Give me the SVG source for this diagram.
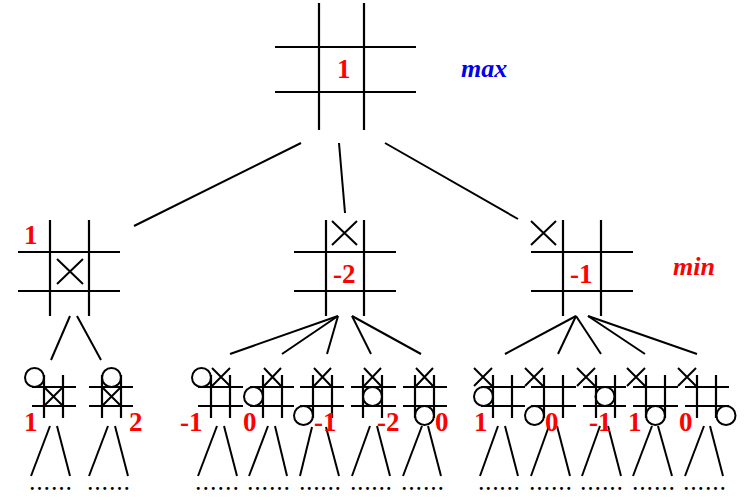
<svg xmlns="http://www.w3.org/2000/svg" width="749" height="501" viewBox="0 0 749 501">
<style>
.g{stroke:#000;stroke-width:2.2;fill:none;stroke-linecap:butt}
.m{stroke:#000;stroke-width:2;fill:none}
.c{stroke:#000;stroke-width:2;fill:none}
.v{font-family:"Liberation Serif","Times New Roman",serif;font-weight:bold;font-size:27px;fill:#ff0000}
.s{font-family:"Liberation Serif","Times New Roman",serif;font-weight:bold;font-style:italic;font-size:26px}
.d{font-family:"Liberation Serif","Times New Roman",serif;font-weight:bold;font-size:18px;fill:#000}
</style>
<rect width="749" height="501" fill="#fff"/>

<g id="connectors" class="c">
<line x1="301" y1="143" x2="134" y2="226"/>
<line x1="339" y1="143" x2="345" y2="213"/>
<line x1="385" y1="143" x2="518" y2="219"/>
<line x1="70" y1="316" x2="51" y2="360"/>
<line x1="77" y1="316" x2="101" y2="360"/>
<line x1="338" y1="316" x2="230" y2="354"/>
<line x1="338" y1="316" x2="282" y2="354"/>
<line x1="338" y1="316" x2="327" y2="354"/>
<line x1="352" y1="316" x2="371" y2="354"/>
<line x1="352" y1="316" x2="421" y2="354"/>
<line x1="576" y1="316" x2="505" y2="354"/>
<line x1="576" y1="316" x2="558" y2="354"/>
<line x1="576" y1="316" x2="601" y2="354"/>
<line x1="588" y1="316" x2="645" y2="354"/>
<line x1="588" y1="316" x2="697" y2="354"/>
<line x1="50" y1="426" x2="31" y2="476"/><line x1="57" y1="426" x2="70" y2="476"/>
<line x1="108" y1="426" x2="89" y2="476"/><line x1="115" y1="426" x2="128" y2="476"/>
<line x1="217" y1="426" x2="198" y2="476"/><line x1="224" y1="426" x2="237" y2="476"/>
<line x1="268" y1="426" x2="249" y2="476"/><line x1="275" y1="426" x2="287" y2="476"/>
<line x1="312" y1="427" x2="300" y2="476"/><line x1="326" y1="427" x2="339" y2="476"/>
<line x1="370" y1="426" x2="352" y2="476"/><line x1="377" y1="426" x2="390" y2="476"/>
<line x1="422" y1="426" x2="403" y2="476"/><line x1="428" y1="426" x2="441" y2="476"/>
<line x1="498" y1="426" x2="480" y2="476"/><line x1="505" y1="426" x2="518" y2="476"/>
<line x1="549" y1="426" x2="531" y2="476"/><line x1="557" y1="426" x2="570" y2="476"/>
<line x1="600" y1="426" x2="582" y2="476"/><line x1="608" y1="426" x2="621" y2="476"/>
<line x1="652" y1="426" x2="633" y2="476"/><line x1="658" y1="426" x2="672" y2="476"/>
<line x1="704" y1="426" x2="685" y2="476"/><line x1="710" y1="426" x2="723" y2="476"/>
</g>

<g id="dots">
<text class="d" x="30" y="490" textLength="41" lengthAdjust="spacing">......</text>
<text class="d" x="88" y="490" textLength="41" lengthAdjust="spacing">......</text>
<text class="d" x="196" y="490" textLength="42" lengthAdjust="spacing">......</text>
<text class="d" x="248" y="490" textLength="41" lengthAdjust="spacing">......</text>
<text class="d" x="300" y="490" textLength="40" lengthAdjust="spacing">......</text>
<text class="d" x="351" y="490" textLength="40" lengthAdjust="spacing">......</text>
<text class="d" x="402" y="490" textLength="41" lengthAdjust="spacing">......</text>
<text class="d" x="479" y="490" textLength="40" lengthAdjust="spacing">......</text>
<text class="d" x="530" y="490" textLength="41" lengthAdjust="spacing">......</text>
<text class="d" x="581" y="490" textLength="41" lengthAdjust="spacing">......</text>
<text class="d" x="633" y="490" textLength="41" lengthAdjust="spacing">......</text>
<text class="d" x="684" y="490" textLength="41" lengthAdjust="spacing">......</text>
</g>

<g id="root">
<path class="g" d="M319 3V130M364 3V130M275 47H416M275 92H416"/>
<text class="v" x="337" y="78">1</text>
</g>
<text id="label-max" class="s" x="461" y="77" fill="#0000ee">max</text>
<text id="label-min" class="s" x="673" y="275" fill="#ff0000">min</text>

<g id="n1">
<path class="g" d="M50 220V316M89 220V316M18 252H120M18 291H120"/>
<path class="m" d="M57 259L83 284M83 259L57 284"/>
<text class="v" x="24" y="244">1</text>
</g>
<g id="n2">
<path class="g" d="M326 220V316M364 220V316M294 252H396M294 291H396"/>
<path class="m" d="M332 221L357 245M357 221L332 245"/>
<text class="v" x="333" y="283">-2</text>
</g>
<g id="n3">
<path class="g" d="M563 220V316M601 220V316M531 252H633M531 291H633"/>
<path class="m" d="M531 221L556 245M556 221L531 245"/>
<text class="v" x="570" y="283">-1</text>
</g>

<g id="n1a">
<path class="g" d="M44 375V418M63 375V418M32 387H76M32 406H76"/>
<circle class="m" cx="34.5" cy="377.5" r="9.5"/>
<path class="m" d="M45 388L62 405M62 388L45 405"/>
<text class="v" x="24" y="431">1</text>
</g>
<g id="n1b">
<path class="g" d="M102 375V418M121 375V418M89 387H133M89 406H133"/>
<circle class="m" cx="111.5" cy="377.5" r="9.5"/>
<path class="m" d="M103 388L120 405M120 388L103 405"/>
<text class="v" x="129" y="431">2</text>
</g>

<g id="n2a">
<path class="g" d="M211 375V418M230 375V418M198 387H243M198 406H243"/>
<circle class="m" cx="201.5" cy="377.5" r="9.5"/>
<path class="m" d="M212 368L230 386M230 368L212 386"/>
<text class="v" x="180" y="431">-1</text>
</g>
<g id="n2b">
<path class="g" d="M263 375V418M282 375V418M250 387H294M250 406H294"/>
<circle class="m" cx="253.5" cy="396.5" r="9.5"/>
<path class="m" d="M264 368L281 386M281 368L264 386"/>
<text class="v" x="243" y="431">0</text>
</g>
<g id="n2c">
<path class="g" d="M313 375V418M332 375V418M300 387H344M300 406H344"/>
<circle class="m" cx="303.5" cy="415.5" r="9.5"/>
<path class="m" d="M314 368L331 386M331 368L314 386"/>
<text class="v" x="314" y="431">-1</text>
</g>
<g id="n2d">
<path class="g" d="M363 375V418M382 375V418M351 387H396M351 406H396"/>
<circle class="m" cx="372.5" cy="396.5" r="9.5"/>
<path class="m" d="M364 368L381 386M381 368L364 386"/>
<text class="v" x="377" y="431">-2</text>
</g>
<g id="n2e">
<path class="g" d="M415 375V418M434 375V418M403 387H447M403 406H447"/>
<circle class="m" cx="424.5" cy="415.5" r="9.5"/>
<path class="m" d="M416 368L433 386M433 368L416 386"/>
<text class="v" x="435" y="431">0</text>
</g>

<g id="n3a">
<path class="g" d="M493 375V418M512 375V418M481 387H525M481 406H525"/>
<path class="m" d="M474 368L492 386M492 368L474 386"/>
<circle class="m" cx="483.5" cy="396.5" r="9.5"/>
<text class="v" x="474" y="431">1</text>
</g>
<g id="n3b">
<path class="g" d="M544 375V418M563 375V418M531 387H576M531 406H576"/>
<path class="m" d="M525 368L543 386M543 368L525 386"/>
<circle class="m" cx="534.5" cy="415.5" r="9.5"/>
<text class="v" x="545" y="431">0</text>
</g>
<g id="n3c">
<path class="g" d="M596 375V418M615 375V418M583 387H626M583 406H626"/>
<path class="m" d="M577 368L595 386M595 368L577 386"/>
<circle class="m" cx="605" cy="396.5" r="9.5"/>
<text class="v" x="589" y="431">-1</text>
</g>
<g id="n3d">
<path class="g" d="M646 375V418M665 375V418M633 387H678M633 406H678"/>
<path class="m" d="M627 368L645 386M645 368L627 386"/>
<circle class="m" cx="655.5" cy="415.5" r="9.5"/>
<text class="v" x="628" y="431">1</text>
</g>
<g id="n3e">
<path class="g" d="M697 375V418M716 375V418M685 387H729M685 406H729"/>
<path class="m" d="M678 368L696 386M696 368L678 386"/>
<circle class="m" cx="726" cy="415.5" r="9.5"/>
<text class="v" x="679" y="431">0</text>
</g>
</svg>
